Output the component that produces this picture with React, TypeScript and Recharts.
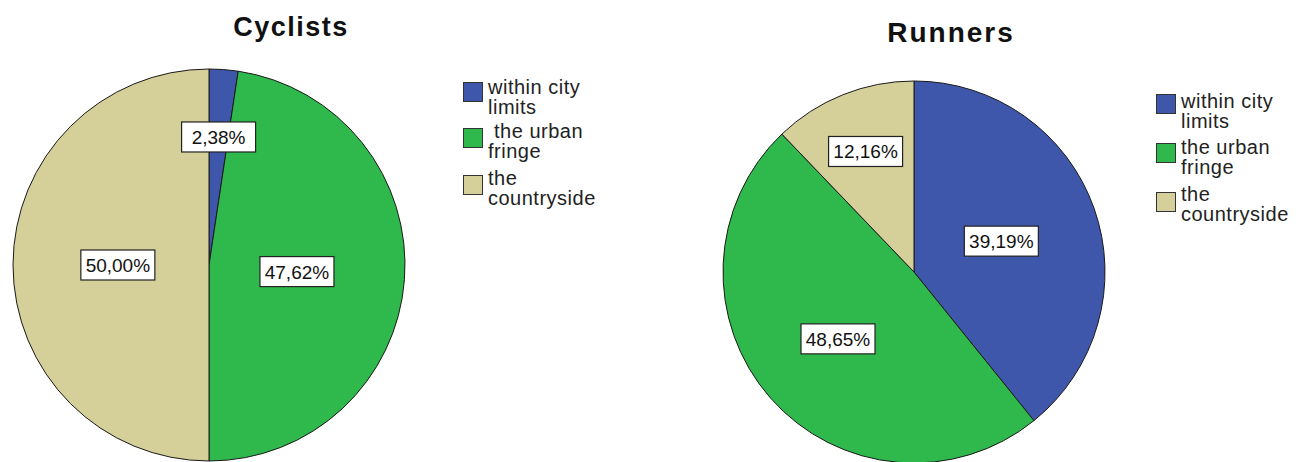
import { Cell, Pie, PieChart } from "recharts";

const categories = ["within city limits", "the urban fringe", "the countryside"];
// legend wraps like the SPSS output
const legendLinesLeft = [["within city", "limits"], [" the urban", "fringe"], ["the", "countryside"]];
const legendLinesRight = [["within city", "limits"], ["the urban", "fringe"], ["the", "countryside"]];

const cyclists = [2.38, 47.62, 50.0];
const runners = [39.19, 48.65, 12.16];

const COLORS = ["#3f57ab", "#2fb84b", "#d5cf99"];
const FONT = "'Liberation Sans', Arial, sans-serif";

// how far out (fraction of radius) each value label sits
const LABEL_POS_LEFT = [0.655, 0.45, 0.465];
const LABEL_POS_RIGHT = [0.485, 0.53, 0.68];

const RAD = Math.PI / 180;

function makeLabel(frac: number[]) {
  return (props: any) => {
    const { cx, cy, midAngle, outerRadius, index, value } = props;
    const r = outerRadius * frac[index];
    const x = cx + r * Math.cos(-midAngle * RAD);
    const y = cy + r * Math.sin(-midAngle * RAD);
    const txt = `${Number(value).toFixed(2).replace(".", ",")}%`;
    return (
      <g>
        <rect
          x={x - 37}
          y={y - 15}
          width={74}
          height={30}
          fill="#fff"
          stroke="#222"
          strokeWidth={1.2}
        />
        <text
          x={x}
          y={y + 7}
          textAnchor="middle"
          fontSize={19}
          fontFamily={FONT}
          fill="#111"
        >
          {txt}
        </text>
      </g>
    );
  };
}

function Legend({
  left,
  lines,
  boxTops,
  baselines,
}: {
  left: number;
  lines: string[][];
  boxTops: number[];
  baselines: number[];
}) {
  return (
    <>
      {lines.map((l, i) => (
        <div key={categories[i]}>
          <div
            style={{
              position: "absolute",
              left,
              top: boxTops[i],
              width: 18,
              height: 18,
              background: COLORS[i],
              border: "1px solid #333",
            }}
          />
          <div
            style={{
              position: "absolute",
              left: left + 25,
              top: baselines[i] - 16,
              fontFamily: FONT,
              fontSize: 20,
              letterSpacing: 0.5,
              lineHeight: "20px",
              color: "#222",
              whiteSpace: "pre",
            }}
          >
            {l[0]}
            <br />
            {l[1]}
          </div>
        </div>
      ))}
    </>
  );
}

export default function App() {
  const leftData = categories.map((name, i) => ({ name, value: cyclists[i] }));
  const rightData = categories.map((name, i) => ({ name, value: runners[i] }));

  return (
    <div style={{ position: "absolute", left: 0, top: 0, width: 1309, height: 462, background: "#fff", overflow: "hidden" }}>
      <div style={{ position: "absolute", left: 191, top: 12, width: 200, textAlign: "center", fontFamily: FONT, fontWeight: "bold", fontSize: 27, letterSpacing: 1.5, color: "#111" }}>
        Cyclists
      </div>
      <div style={{ position: "absolute", left: 851, top: 17, width: 200, textAlign: "center", fontFamily: FONT, fontWeight: "bold", fontSize: 28, letterSpacing: 2, color: "#111" }}>
        Runners
      </div>

      <div style={{ position: "absolute", left: 0, top: 0 }}>
        <PieChart width={1309} height={462} margin={{ top: 0, right: 0, bottom: 0, left: 0 }}>
          <Pie
            data={leftData}
            dataKey="value"
            nameKey="name"
            cx={209}
            cy={265}
            outerRadius={196}
            startAngle={90}
            endAngle={-270}
            stroke="#1a1a1a"
            strokeWidth={1}
            label={makeLabel(LABEL_POS_LEFT)}
            labelLine={false}
            isAnimationActive={false}
          >
            {leftData.map((d, i) => (
              <Cell key={d.name} fill={COLORS[i]} />
            ))}
          </Pie>
          <Pie
            data={rightData}
            dataKey="value"
            nameKey="name"
            cx={914}
            cy={272}
            outerRadius={191}
            startAngle={90}
            endAngle={-270}
            stroke="#1a1a1a"
            strokeWidth={1}
            label={makeLabel(LABEL_POS_RIGHT)}
            labelLine={false}
            isAnimationActive={false}
          >
            {rightData.map((d, i) => (
              <Cell key={d.name} fill={COLORS[i]} />
            ))}
          </Pie>
        </PieChart>
      </div>

      <Legend left={463} lines={legendLinesLeft} boxTops={[82, 128, 175]} baselines={[93, 137, 184]} />
      <Legend left={1156} lines={legendLinesRight} boxTops={[94, 143, 192]} baselines={[107, 153, 200]} />
    </div>
  );
}
